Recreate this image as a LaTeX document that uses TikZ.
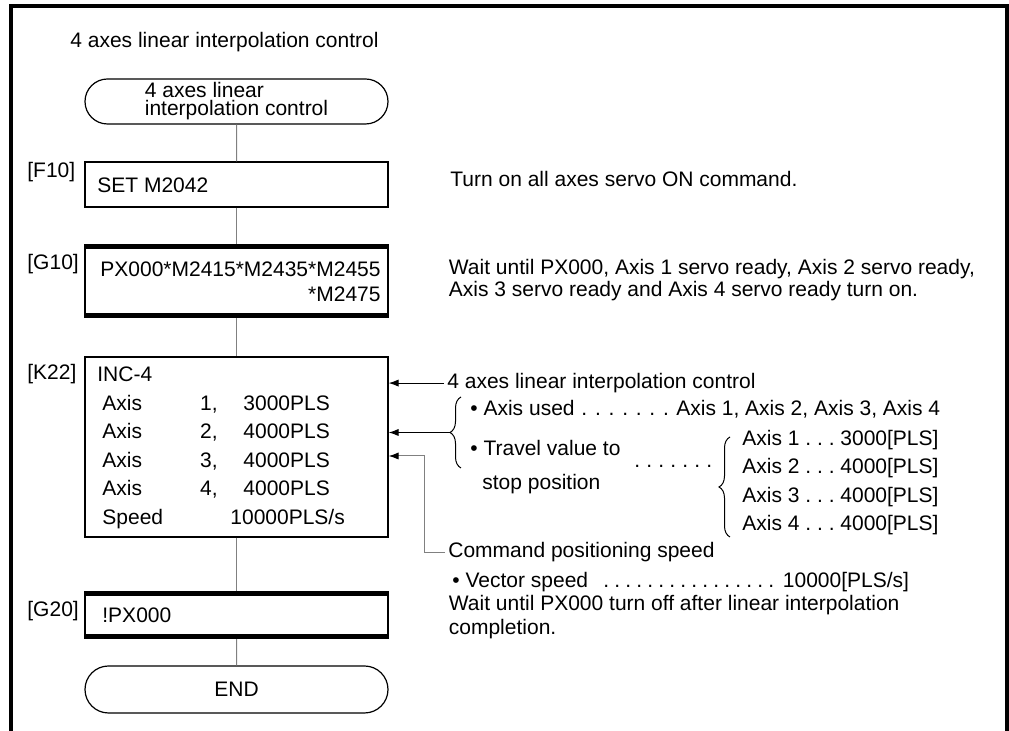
\documentclass[tikz,border=0pt]{standalone}
\usepackage{fontspec}
\setmainfont{Liberation Sans}
\usetikzlibrary{positioning,arrows.meta,shapes.misc,decorations.pathreplacing}
\newcommand{\dotrun}[2]{\hbox to \dimexpr #2*#1\relax{\leaders\hbox to #2{\hss.\hss}\hfill}}

\begin{document}
\begin{tikzpicture}[x=0.5pt,y=-0.5pt,>=Latex,
  txt/.style={inner sep=0pt,anchor=base west,font=\fontsize{10.5}{11}\selectfont},
  box/.style={draw,line width=0.6pt,minimum width=151.5pt,inner sep=0pt},
  term/.style={box,rounded rectangle,align=left,font=\fontsize{10.5}{9}\selectfont},
  flow/.style={draw=gray,line width=0.5pt},
  bar/.style={line width=2.2pt},
  pointer/.style={-{Latex[length=5pt,width=3.6pt,color=black]},line width=0.5pt},
  brace/.style={decorate,decoration={brace,amplitude=5.5pt},line width=0.5pt}]
  \useasboundingbox (0,0) rectangle (1009,731);
  \draw[line width=2pt] (10.5,731) -- (10.5,6.5) -- (1006.5,6.5) -- (1006.5,731);
  \node[txt] (title) at (70,47.5) {4 axes linear interpolation control};

  \node[term,minimum height=22.5pt] (start) at (236.5,101.5) {4 axes linear\\interpolation control};
  \node[box,minimum height=22.5pt] (f10) at (236.5,184.5) {};
  \node[box,minimum height=36pt] (g10) at (236.5,281) {};
  \node[box,minimum height=90pt] (k22) at (236.5,447) {};
  \node[box,minimum height=23pt] (g20) at (236.5,615) {};
  \node[term,minimum height=23.5pt] (stop) at (236.5,689.5) {END};
  \draw[flow] (start) -- (f10);
  \draw[flow] (f10) -- (g10);
  \draw[flow] (g10) -- (k22);
  \draw[flow] (k22) -- (g20);
  \draw[flow] (g20) -- (stop);
  \foreach \b in {g10,g20} {
    \draw[bar] ([yshift=-1.1pt]\b.north west) -- ([yshift=-1.1pt]\b.north east);
    \draw[bar] ([yshift=1.1pt]\b.south west) -- ([yshift=1.1pt]\b.south east);
  }

  \node[txt] (lf10) at (27,178) {[F10]};
  \node[txt] (lg10) at (27,270) {[G10]};
  \node[txt] (lk22) at (27,380) {[K22]};
  \node[txt] (lg20) at (27,617) {[G20]};

  \node[txt] (setcmd) at (97,193) {SET M2042};
  \node[txt,anchor=base east] (waitcmd) at (381,277) {PX000*M2415*M2435*M2455};
  \node[txt,anchor=base east] (waitcmd2) at (381,301.5) {*M2475};
  \node[txt] (inccmd) at (97,382) {INC-4};
  \foreach \n/\val [count=\i from 0] in {1/3000,2/4000,3/4000,4/4000} {
    \node[txt] (axis\n) at (102,410.5+28.4*\i) {Axis};
    \node[txt,anchor=base east] (axno\n) at (218,410.5+28.4*\i) {\n,};
    \node[txt] (axval\n) at (243,410.5+28.4*\i) {\val PLS};
  }
  \node[txt] (spd) at (102,524.5) {Speed};
  \node[txt] (spdval) at (230,524.5) {10000PLS/s};
  \node[txt] (offcmd) at (102,623) {!PX000};

  \node[txt] (servo) at (450,187) {Turn on all axes servo ON command.};
  \node[txt] (wait1) at (448.5,274.5) {Wait until PX000, Axis 1 servo ready, Axis 2 servo ready,};
  \node[txt] (wait2) at (448.5,296.5) {Axis 3 servo ready and Axis 4 servo ready turn on.};

  \node[txt] (ctl) at (447,388.5) {4 axes linear interpolation control};
  \node[txt] (used) at (470,415.5) {• Axis used};
  \node[txt] (useddots) at (577.2,415.5) {\dotrun{7}{6.8pt}};
  \node[txt] (usedval) at (676,415.5) {Axis 1, Axis 2, Axis 3, Axis 4};
  \node[txt] (travel) at (470,455.5) {• Travel value to};
  \node[txt] (travel2) at (482,489.5) {stop position};
  \node[txt] (traveldots) at (631,468) {\dotrun{7}{6pt}};
  \foreach \n/\val [count=\i from 0] in {1/3000,2/4000,3/4000,4/4000}
    \node[txt] (tax\n) at (742,445.5+28.4*\i) {Axis \n\ .\ .\ .\ \val[PLS]};
  \draw[brace] (461,468) -- (461,397);
  \draw[brace] (730,537) -- (730,437);
  \node[txt] (cps) at (448,557.5) {Command positioning speed};
  \node[txt] (vec) at (452,587.5) {• Vector speed};
  \node[txt] (vecdots) at (600.3,587.5) {\dotrun{16}{5.5pt}};
  \node[txt] (vecval) at (782.5,587.5) {10000[PLS/s]};
  \node[txt] (done1) at (448.5,610.5) {Wait until PX000 turn off after linear interpolation};
  \node[txt] (done2) at (448.5,634.5) {completion.};

  \coordinate (brtip) at (450,432.5);
  \coordinate (knee) at (424,456);
  \draw[pointer] ([xshift=-1.5pt]ctl.west) -- (ctl.west -| k22.east);
  \draw[pointer] (brtip) -- (brtip -| k22.east);
  \draw[pointer,draw=gray] ([xshift=-1.5pt]cps.west) -| (knee) -- (knee -| k22.east);
\end{tikzpicture}
\end{document}
